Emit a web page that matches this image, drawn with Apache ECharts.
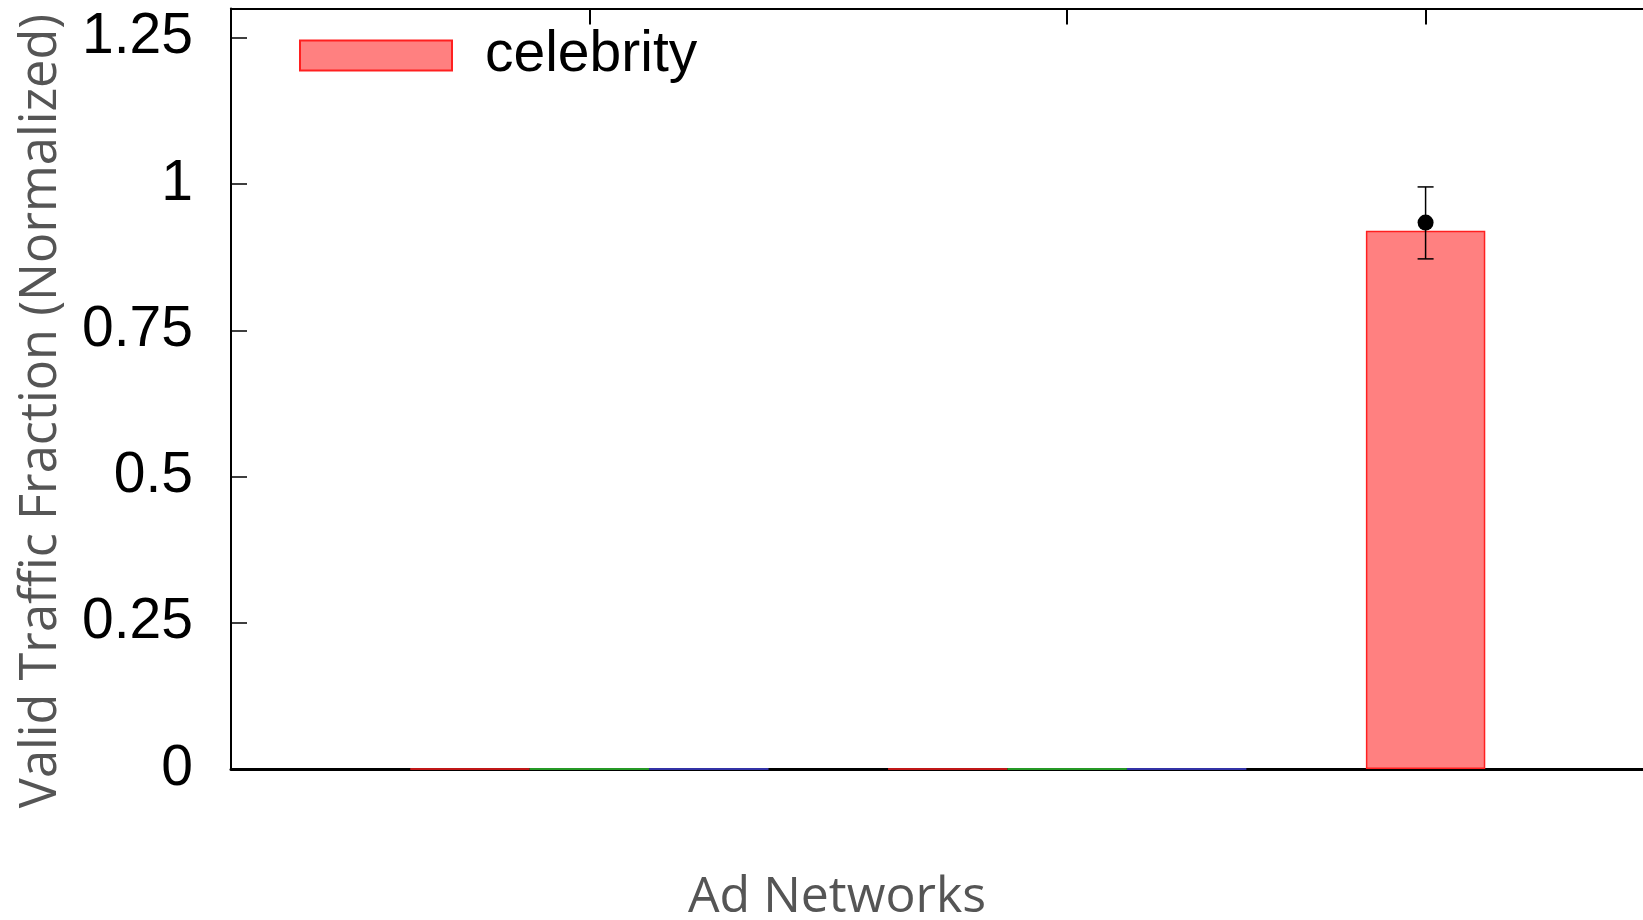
<!DOCTYPE html>
<html>
<head>
<meta charset="utf-8">
<script src="https://cdn.jsdelivr.net/npm/echarts@6/dist/echarts.min.js"></script>
<style>html,body{margin:0;padding:0;background:#fff}#c{width:1643px;height:920px}</style>
</head>
<body>
<div id="c"></div>
<script>
// ---- data ----
const seriesName = 'celebrity';
const celebrityX = [0, 4, 8];
const celebrityY = [0, 0, 0.92];
const series2X = [1, 5];
const series2Y = [0, 0];
const series3X = [2, 6];
const series3Y = [0, 0];
const meanX = [8];
const meanY = [0.934];
const errLow = [0.872];
const errHigh = [0.995];
const yTicks = [0, 0.25, 0.5, 0.75, 1, 1.25];
const topTicks = [1, 5, 8];
const xRange = [-2, 9.82];
const xTitle = 'Ad Networks';
const yTitle = 'Valid Traffic Fraction (Normalized)';

const pair = (xs, ys) => xs.map((x, i) => [x, ys[i]]);
const errorData = meanX.map((x, i) => [x, errLow[i], errHigh[i]]);

const chart = echarts.init(document.getElementById('c'), null, {renderer: 'canvas'});
const barCommon = {
  type: 'bar', barWidth: 119.4, barGap: '-100%', xAxisIndex: 0, yAxisIndex: 0
};
chart.setOption({
  animation: false,
  grid: {left: 231, top: 8.5, bottom: 151, right: 0, containLabel: false},
  legend: {
    show: true, data: [{name: seriesName, icon: 'rect'}], left: 299, top: 27, padding: 0,
    itemWidth: 152, itemHeight: 30,
    textStyle: {fontFamily: 'Liberation Sans', fontSize: 57, color: '#000', padding: [0, 0, 0, 28]}
  },
  xAxis: [{
    type: 'value', min: xRange[0], max: xRange[1], position: 'bottom',
    axisLine: {show: true, onZero: false, lineStyle: {color: '#000', width: 3}},
    axisTick: {show: false}, axisLabel: {show: false}, splitLine: {show: false}
  }, {
    type: 'value', min: xRange[0], max: xRange[1], position: 'top',
    axisLine: {show: true, onZero: false, lineStyle: {color: '#000', width: 2}},
    axisTick: {show: true, inside: true, length: 16, customValues: topTicks, lineStyle: {color: '#000', width: 2}},
    axisLabel: {show: false}, splitLine: {show: false}
  }],
  yAxis: {
    type: 'value', min: 0, max: 1.3,
    axisLine: {show: true, onZero: false, lineStyle: {color: '#000', width: 2}},
    axisTick: {show: true, inside: true, length: 16, customValues: yTicks, lineStyle: {color: '#000', width: 1.5}},
    axisLabel: {show: true, customValues: yTicks, margin: 38, fontFamily: 'Liberation Sans', fontSize: 57, color: '#000'},
    splitLine: {show: false}
  },
  series: [
    Object.assign({}, barCommon, {
      name: seriesName, data: pair(celebrityX, celebrityY),
      itemStyle: {color: '#ff8080', borderColor: '#ff2020', borderWidth: 1.5}
    }),
    Object.assign({}, barCommon, {
      name: 's2', data: pair(series2X, series2Y),
      itemStyle: {color: '#80ff80', borderColor: '#33cc33', borderWidth: 1.5}
    }),
    Object.assign({}, barCommon, {
      name: 's3', data: pair(series3X, series3Y),
      itemStyle: {color: '#8080ff', borderColor: '#4444dd', borderWidth: 1.5}
    }),
    {
      type: 'custom', name: 'err', data: errorData, z: 5,
      renderItem: function (params, api) {
        const x = api.value(0);
        const lo = api.coord([x, api.value(1)]);
        const hi = api.coord([x, api.value(2)]);
        const h = 8;
        const st = {stroke: '#000', lineWidth: 1.5};
        return {type: 'group', children: [
          {type: 'line', shape: {x1: lo[0], y1: lo[1], x2: hi[0], y2: hi[1]}, style: st},
          {type: 'line', shape: {x1: hi[0] - h, y1: hi[1], x2: hi[0] + h, y2: hi[1]}, style: st},
          {type: 'line', shape: {x1: lo[0] - h, y1: lo[1], x2: lo[0] + h, y2: lo[1]}, style: st}
        ]};
      }
    },
    {
      type: 'scatter', name: 'mean', data: pair(meanX, meanY), z: 6,
      symbol: 'circle', symbolSize: 16, itemStyle: {color: '#000', opacity: 1}
    }
  ],
  graphic: [
    {type: 'text', x: 837, y: 898, style: {text: xTitle, fontFamily: 'Open Sans', fontSize: 50, fill: '#555', align: 'center', verticalAlign: 'middle'}},
    {type: 'text', x: 42, y: 411, rotation: Math.PI / 2, style: {text: yTitle, fontFamily: 'Open Sans', fontSize: 50.5, fill: '#555', align: 'center', verticalAlign: 'middle'}}
  ]
});
</script>
</body>
</html>
